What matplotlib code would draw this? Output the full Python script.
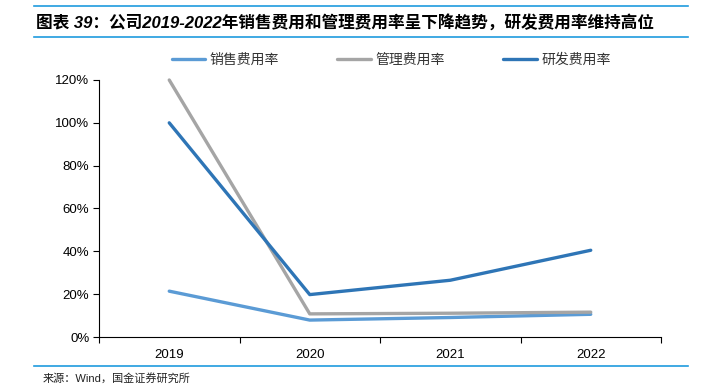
import matplotlib
matplotlib.use("Agg")
import matplotlib.pyplot as plt
from matplotlib.lines import Line2D
from matplotlib.ticker import FuncFormatter, FixedLocator

plt.rcParams['font.family'] = ['Liberation Sans', 'Noto Sans CJK SC', 'DejaVu Sans']

years = ["2019", "2020", "2021", "2022"]
sales_rate = [0.214, 0.079, 0.091, 0.106]
admin_rate = [1.20, 0.108, 0.111, 0.116]
rd_rate = [1.00, 0.198, 0.265, 0.405]
series_names = ["销售费用率", "管理费用率", "研发费用率"]
colors = ["#5B9BD5", "#A5A5A5", "#2E75B6"]

fig = plt.figure(figsize=(7.05, 3.85), dpi=100)
ax = fig.add_axes([99 / 705, 1 - 337 / 385, 562 / 705, 257 / 385])

x = list(range(len(years)))
for vals, name, c in zip([sales_rate, admin_rate, rd_rate], series_names, colors):
    ax.plot(x, vals, color=c, lw=2.4, label=name, clip_on=False, solid_capstyle="round")

ax.set_xlim(-0.5, len(years) - 0.5)
ax.set_ylim(0, 1.2)
ax.yaxis.set_major_locator(FixedLocator([i * 0.2 for i in range(7)]))
ax.yaxis.set_major_formatter(FuncFormatter(lambda v, p: f"{v * 100:.0f}%"))
ax.set_xticks(x)
ax.set_xticklabels(years)
ax.xaxis.set_minor_locator(FixedLocator([i - 0.5 for i in range(len(years) + 1)]))
ax.tick_params(axis="x", which="major", length=0, pad=9, labelsize=9.5)
ax.tick_params(axis="x", which="minor", length=4, direction="out", width=0.8)
ax.tick_params(axis="y", length=4, direction="out", width=0.8, labelsize=9.5, pad=3)
for s in ["top", "right"]:
    ax.spines[s].set_visible(False)
ax.spines["left"].set_linewidth(0.8)
ax.spines["bottom"].set_linewidth(0.8)

leg = ax.legend(loc="center", bbox_to_anchor=(0.52, 1.08), ncol=3, frameon=False,
                fontsize=10, handlelength=2.4, handletextpad=0.35, columnspacing=4.2)
for t in leg.get_texts():
    t.set_color("#333333")

# header / footer rules and texts
rule = "#1F9BDE"
fig.add_artist(Line2D([34 / 705, 688 / 705], [1 - 6 / 385] * 2, color=rule, lw=1.2))
fig.add_artist(Line2D([34 / 705, 688 / 705], [1 - 37 / 385] * 2, color=rule, lw=1.2))
fig.add_artist(Line2D([34 / 705, 688 / 705], [1 - 366 / 385] * 2, color=rule, lw=1.2))
fig.text(36 / 705, 1 - 22 / 385, "图表 39：公司2019-2022年销售费用和管理费用率呈下降趋势，研发费用率维持高位",
         fontsize=12, fontweight="bold", va="center", ha="left", style="italic")
fig.text(43 / 705, 1 - 378 / 385, "来源：Wind，国金证券研究所", fontsize=8, va="center", ha="left",
         color="#222222")

fig.savefig("out.png", dpi=100)
